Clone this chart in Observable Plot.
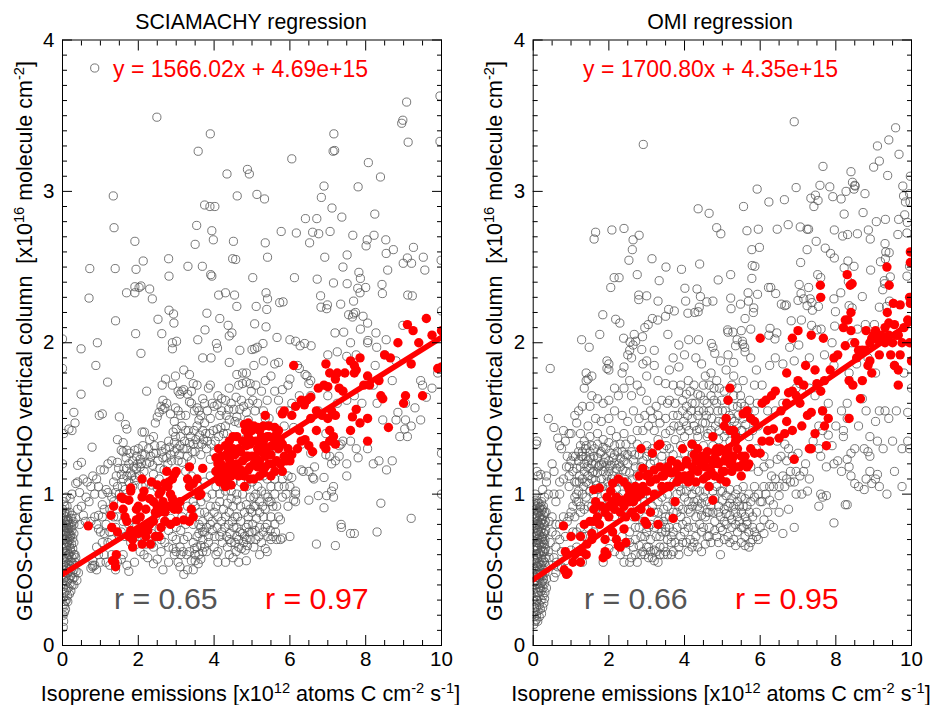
<!DOCTYPE html>
<html><head><meta charset="utf-8">
<script src="https://cdn.jsdelivr.net/npm/d3@7"></script>
<script src="https://cdn.jsdelivr.net/npm/@observablehq/plot@0.6"></script>
<style>html,body{margin:0;padding:0;background:#fff}#wrap{display:flex;width:932px;height:705px}svg{display:block;font-family:"Liberation Sans",Arial,sans-serif}</style>
</head><body><div id="wrap"></div>
<script>
const titles = ["SCIAMACHY regression", "OMI regression"];
const equations = ["y = 1566.02x + 4.69e+15", "y = 1700.80x + 4.35e+15"];
const rAll = ["r = 0.65", "r = 0.66"];
const rRed = ["r = 0.97", "r = 0.95"];
const slopes = [0.156602, 0.17008];
const intercepts = [0.469, 0.435];
const xMajor = [0,2,4,6,8,10];
const xMinor = [0.5,1,1.5,2.5,3,3.5,4.5,5,5.5,6.5,7,7.5,8.5,9,9.5];
const yMajor = [0,1,2,3,4];
const yMinor = [0.1,0.2,0.3,0.4,0.5,0.6,0.7,0.8,0.9,1.1,1.2,1.3,1.4,1.5,1.6,1.7,1.8,1.9,2.1,2.2,2.3,2.4,2.5,2.6,2.7,2.8,2.9,3.1,3.2,3.3,3.4,3.5,3.6,3.7,3.8,3.9];

const sciaOpenHigh = [[.85,3.815],[2.49,3.49],[3.9,3.38],[3.58,3.265],[7.16,3.38],[7.18,3.27],[7.14,3.265],[8.98,3.47],[8.95,3.45],[9.08,3.59],[9.12,3.325],[9.96,3.63],[9.96,3.33],[6.05,3.215],[8.07,3.19],[8.39,3.095],[4.88,3.145],[4.93,3.115],[4.34,3.115],[6.9,3.035],[7.8,3.03],[1.34,2.97],[4.61,2.97],[5.13,2.98],[5.33,2.95],[6.83,2.96],[3.75,2.91],[3.89,2.9],[4.02,2.9],[7.11,2.89],[8.24,2.85],[7.37,2.83],[6.41,2.82],[6.71,2.82],[3.54,2.775],[1.36,2.76],[3.94,2.74],[5.77,2.735],[6.17,2.725],[6.6,2.73],[6.76,2.72],[7.06,2.735],[7.66,2.71],[8.22,2.71],[8.04,2.68],[8.01,2.64],[8.53,2.68],[1.91,2.67],[3.5,2.65],[3.98,2.68],[4.51,2.67],[5.35,2.66],[6.52,2.66],[8.54,2.59],[8.73,2.615],[9.26,2.63],[7.51,2.58],[6.92,2.565],[5.41,2.565],[4.49,2.555],[4.57,2.55],[2.8,2.555],[2.13,2.54],[9.1,2.56],[9.52,2.565],[9.99,2.545],[8.99,2.525],[9.21,2.525],[.72,2.49],[1.39,2.49],[1.94,2.485],[3.31,2.505],[3.69,2.505],[7.4,2.5],[7.82,2.465],[8.58,2.48],[9.56,2.48],[3.91,2.45],[3.94,2.44],[2.81,2.44],[5.02,2.43],[6.12,2.43],[6.72,2.42],[7.86,2.425],[7.15,2.395],[7.51,2.39],[8.43,2.385],[1.91,2.37],[2.07,2.375],[2.02,2.365],[2.3,2.355],[7.79,2.36],[8,2.365],[1.69,2.33],[1.91,2.33],[4.3,2.33],[4.12,2.315],[4.54,2.315],[5.37,2.33],[7.85,2.33],[8.44,2.325],[9.11,2.315],[9.23,2.31],[.7,2.295],[2.37,2.29],[5.41,2.29],[6.81,2.31],[5.73,2.265],[5.82,2.27],[7.68,2.275],[4.6,2.24],[5.11,2.24],[6.99,2.25],[7.34,2.255],[6.82,2.235],[6.97,2.225],[2.81,2.215],[5.39,2.22],[10,2.21],[2.93,2.19],[3.81,2.195],[7.73,2.2],[7.68,2.19],[7.55,2.185],[7.65,2.17],[7.93,2.175],[1.4,2.145],[2.52,2.155],[4.15,2.16],[2.94,2.13],[4.37,2.115],[5.07,2.125],[8.05,2.13],[8.98,2.115],[5.37,2.105],[3.76,2.085],[7.86,2.09],[1.93,2.06],[2.62,2.06],[4.47,2.065],[4.4,2.045],[7.19,2.065],[7.42,2.07],[8.27,2.065],[0,2.025],[5.66,2.035],[3.57,2.02],[6,2.02],[6.15,2.01],[6.27,1.98],[6.39,1.995],[6.56,1.98],[8.06,2.015],[8.05,2],[8.54,2.02],[7.6,2],[.92,2],[2.9,2],[3.01,2.01],[4.06,1.995],[4.09,1.965],[5.29,1.995],[5.14,1.97],[5.07,1.96],[5,1.955],[8.29,1.97],[.49,1.96],[4.68,1.95]];

const sciaOpenMid = [[2.07,1.93],[2.9,1.96],[0,1.83],[.88,1.85],[1.19,1.74],[.49,1.66],[.97,1.52],[1.05,1.53],[1.5,1.51],[.3,1.54],[.33,1.47],[.17,1.43],[.25,1.42],[1.66,1.46],[1.7,1.43],[1.45,1.36],[.78,1.31],[1.6,1.34],[0,1.2],[.5,1.21],[.03,1.4],[2.1,1.41],[2.16,1.41],[2.4,1.38],[2.22,1.68],[2.65,1.62],[2.63,1.72],[2.9,1.72],[2.98,1.78],[2.72,1.76],[3.2,1.82],[3.35,1.79],[3.7,1.9],[3.92,1.9],[4.4,1.87],[4.75,1.8],[4.6,1.79],[4.85,1.8],[5.05,1.85],[5.3,1.88],[5.6,1.86],[5.7,1.87],[6.2,1.85],[6.25,1.83],[6.4,1.79],[6.45,1.78],[6.5,1.73],[6.55,1.75],[7,1.92],[7.25,1.94],[7.5,1.91],[7.75,1.92],[8.5,1.92],[8.8,1.88],[9.45,1.75],[9.5,1.72],[9.75,1.7],[9.9,1.8],[9.05,1.6],[9.3,1.57],[9.6,1.64],[9.45,1.49],[8.85,1.54],[8.8,1.49],[8.45,1.49],[9.05,1.49],[9.03,1.43],[8.9,1.38],[8.7,1.22],[8.35,1.22],[8.55,1.16],[8.2,1.2],[9.1,1.38],[9.2,1.45],[10,1.27],[10,1],[9.2,.84],[8.3,.75],[8.4,.94],[7.7,.74],[7.6,.74],[7.2,.66],[6.7,.67],[7.35,.8],[7.36,.78],[7.15,.98],[7.1,1.02],[7.15,1.05],[6.9,.91],[6.97,.99],[6.75,.99],[6.5,.96],[6.1,.96],[6.15,.95],[6.15,1],[6.15,1.02],[7.3,1.32],[7.4,1.35],[7.3,1.25],[7.6,1.35],[7.75,1.3],[7.35,1.33],[6.95,1.26],[6.55,1.27],[6.35,1.15],[6.5,1.15],[6.3,1.16],[6.05,1.11],[5.95,1.12],[6.6,1.11],[6.63,1.1],[6.9,1.11],[7.5,1.2],[7.8,1.24],[8.05,1.3],[6.65,1.18],[5.8,1.1],[7.05,1.25],[7.1,1.2],[7.2,1.22],[6.3,1.33],[6.1,1.44],[5.3,1.55],[5.15,1.6],[5.4,1.62],[5.6,1.68],[5.8,1.69],[5.45,1.5],[5.75,1.55],[5.1,1.72],[4.65,1.72],[4.75,1.73],[4.85,1.74],[4.95,1.73],[4.4,1.7],[3.85,1.7],[3.9,1.72],[4.1,1.65],[4.2,1.63],[4.3,1.62],[3.4,1.68],[3.45,1.73],[3.55,1.72],[3.3,1.66],[3.1,1.66],[3.15,1.68],[3.2,1.69],[3.05,1.68],[2.98,1.57],[2.7,1.57],[2.5,1.51],[2.55,1.54],[2.6,1.58],[2.65,1.56],[2.75,1.6],[2.85,1.53],[2.45,1.47],[3.35,1.61],[3.4,1.6],[3.55,1.57],[3.6,1.55],[3.7,1.63],[3.75,1.6],[3.65,1.52],[3.6,1.49],[3.55,1.45],[3.7,1.42],[3.75,1.47],[3.9,1.5],[4,1.58],[4.15,1.52],[4.3,1.45],[4.4,1.49],[4.6,1.51],[4.55,1.48],[4.65,1.47],[4.85,1.54],[4.9,1.49],[5,1.44],[5.2,1.43],[5.35,1.5],[5.05,1.38],[4.85,1.37],[4.35,1.4],[3.15,1.45],[3.25,1.42],[3.0,1.43],[2.4,1.27],[2.3,1.36],[2.1,1.26],[2.0,1.3],[1.9,1.29],[1.7,1.29],[1.6,1.28],[1.55,1.29],[1.45,1.21],[1.3,1.22],[1.2,1.2],[1.1,1.16],[1,1.16],[.95,1.05],[.9,1.1],[.75,1.05],[.8,1.12],[.4,1.19],[.55,1.1],[.65,1.08],[.35,1.07],[.4,1.08],[.45,1.01],[.25,1],[.2,.97],[.1,.98],[.62,.98],[.7,.95],[.85,1],[1.05,1],[1.15,1.03],[1.2,1.01],[1.3,.98],[1.35,.95],[1.45,1.05],[1.6,1.1],[1.7,1.12],[1.55,1.13],[1.8,1.14],[1.85,1.05],[1.95,1.17],[2.05,1.18],[2.15,1.15],[2.3,1.21],[2.4,1.13],[2.55,1.1],[2.65,1.24],[2.75,1.24],[2.85,1.26],[2.95,1.28],[3.05,1.22],[3.15,1.21],[3.3,1.25],[3.4,1.22],[3.5,1.28],[3.65,1.26],[3.8,1.3],[3.9,1.23],[4,1.27],[2.6,1.32],[2.95,1.34],[2.8,1.35],[3.1,1.32],[2.2,1.06],[2.5,1.04],[2.35,1.06],[1.75,1.08],[1.65,1.03],[1.4,1.01],[1.9,1.09],[2.1,1.05],[1.5,1],[3.35,1.34],[3.45,1.33],[1.75,1.2],[1.85,1.22],[1.7,1.17],[1.95,1.25],[2.05,1.23]];

const sciaOpenLow = [[0,.9],[.05,.88],[.1,.85],[.15,.83],[.25,.86],[.3,.8],[.35,.84],[.45,.8],[.55,.86],[.6,.82],[.75,.82],[.85,.85],[.95,.86],[1.05,.85],[.9,.8],[1,.75],[1.1,.74],[.95,.77],[1.15,.8],[.9,.65],[.8,.53],[.75,.51],[.8,.52],[.85,.53],[.9,.5],[1,.55],[1.15,.55],[1.25,.53],[1.45,.55],[1.7,.53],[1.75,.49],[1.4,.5],[1.6,.6],[1.9,.55],[2.15,.6],[2.4,.54],[2.5,.57],[2.65,.5],[2.8,.55],[2.95,.6],[3.05,.55],[3.1,.52],[3.2,.47],[3.3,.5],[3.45,.5],[3.5,.56],[3.65,.57],[3.7,.62],[3.6,.6],[3.45,.68],[3.55,.65],[3.65,.66],[4.05,.6],[4.1,.55],[4.3,.55],[4.5,.58],[4.65,.55],[4.85,.56],[5.2,.6],[5.4,.62],[5.35,.64],[5.5,.7],[5.65,.7],[5.75,.7],[5.8,.71],[6,.72],[5.1,.7],[4.95,.7],[4.85,.7],[4.8,.72],[4.4,.7],[4.45,.68],[4.35,.65],[4.2,.75],[4.1,.62],[4,.65],[3.85,.72],[3.75,.75],[3.45,.8],[3.6,.8],[3.65,.78],[3.7,.82],[3.7,.75],[3.6,.74],[3.55,.72],[3.3,.72],[3.2,.7],[3.1,.65],[3,.7],[2.9,.72],[2.7,.68],[2.6,.62],[2.5,.72],[2.35,.67],[2.2,.67],[2.1,.7],[2,.72],[1.8,.68],[2.55,.77],[2.8,.76],[4.3,.85],[4.4,.88],[4.55,.85],[4.7,.82],[4.9,.85],[5,.88],[5.1,.92],[5.2,.88],[5.3,.85],[5.5,.85],[5.35,.9],[5.55,.92],[5.7,.85],[5.75,.83],[5.6,.8],[5.4,.8],[5.2,.78],[5,.75],[4.85,.78],[4.6,.78],[4.75,.74],[4.6,.72],[4.9,.8],[4.1,.85],[4,.88],[3.9,.92],[3.85,.85],[4.15,.95],[4.25,.9],[4.45,.97],[4.6,.96],[4.7,.92],[4.85,.93],[5.1,1],[5.25,1.02],[5.35,1],[5.5,1.05],[5.6,1],[5.45,.95],[5.8,.98],[5.7,1.05],[5.85,1.05],[5.6,1.1],[5.4,1.1],[5.15,1.05],[5.05,.98],[4.95,.98],[4.75,1],[4.6,1],[4.45,1.02],[3.8,.98],[3.95,1],[4.05,1.05],[4.15,1],[4.25,1.05],[3.65,.95],[3.45,.95],[3.3,.92],[3.15,.85],[1.55,.75],[1.65,.72],[2.35,.74],[1.25,.9],[1.35,.85],[1.1,.9],[1.05,.93],[.4,.9],[.5,.92],[2.45,.85],[2.7,.82],[3.35,.62],[3.5,.6],[4.65,.65],[5.05,.65],[4.4,.6],[2.05,.62],[2.25,.58],[1.55,.57],[1.3,.6]];

const sciaOpenLowX = [[.02,.12],[.03,.16],[.02,.2],[.05,.22],[.08,.24],[.02,.27],[.07,.29],[.1,.3],[.03,.32],[.13,.33],[.18,.34],[.05,.35],[.1,.36],[.22,.36],[.15,.38],[.02,.39],[.07,.4],[.25,.4],[.2,.41],[.3,.4],[.12,.42],[.03,.43],[.17,.44],[.27,.44],[.08,.45],[.22,.46],[.31,.45],[.38,.43],[.02,.47],[.13,.48],[.26,.48],[.36,.49],[.06,.5],[.18,.5],[.3,.5],[.42,.48],[.1,.52],[.23,.52],[.02,.53],[.15,.54],[.28,.54],[.07,.55],[.2,.56],[.33,.55],[.12,.58],[.25,.58],[.02,.58],[.18,.6],[.3,.6],[.08,.61],[.13,.63],[.22,.62],[.02,.64],[.27,.64],[.1,.65],[.18,.66],[.05,.67],[.24,.67],[.13,.68],[.3,.68],[.02,.7],[.08,.7],[.19,.7],[.27,.71],[.12,.72],[.04,.73],[.22,.73],[.15,.74],[.07,.75],[.02,.76],[.17,.77],[.25,.76],[.11,.78],[.03,.79],[.2,.8],[.07,.81],[.13,.82],[.01,.84],[.3,.74],[.33,.6],[.35,.58],[.14,.29],[.05,.26]];

const sciaOpenExtra = [[.04,.46],[.09,.48],[.14,.51],[.19,.53],[.24,.55],[.04,.57],[.1,.59],[.16,.6],[.21,.64],[.06,.62],[.11,.66],[.15,.69],[.2,.72],[.05,.7],[.09,.74],[.14,.76],[.18,.74],[.23,.78],[.06,.78],[.1,.8],[.16,.8],[.04,.82],[.09,.83],[.03,.86],[.07,.88],[.12,.88],[.18,.88],[.23,.84],[.28,.82],[.06,.92],[.12,.92],[.04,.95],
[1.35,1.08],[1.42,1.12],[1.48,1.17],[1.58,1.05],[1.62,1.17],[1.68,1.24],[1.78,1.27],[1.83,1.12],[1.88,1.18],[1.93,1.11],[1.98,1.2],[2.03,1.12],[2.08,1.2],[2.12,1.32],[2.18,1.26],[2.22,1.2],[2.27,1.3],[2.33,1.25],[2.38,1.19],[2.43,1.32],[2.47,1.27],[2.52,1.22],[2.57,1.17],[2.62,1.28],[2.68,1.16],[2.72,1.3],[2.78,1.2],[2.83,1.31],[2.88,1.22],[2.92,1.41],[2.98,1.38],[3.02,1.3],[3.08,1.26],[3.12,1.38],[3.18,1.3],[3.22,1.35],[3.28,1.3],[3.32,1.42],[3.38,1.38],[3.42,1.28],[3.47,1.42],[3.52,1.36],[3.58,1.33],[3.62,1.39],[3.68,1.33],[3.72,1.36],[3.78,1.4],[3.82,1.35],[3.88,1.4],[3.92,1.33],[3.98,1.42],[4.03,1.35],[4.08,1.43],[4.12,1.38],[4.18,1.44],[4.25,1.4],[4.32,1.52],[4.38,1.56],[4.45,1.6],[4.52,1.56],[4.58,1.64],[4.68,1.56],[4.72,1.62],[4.78,1.58],[4.92,1.6],[4.98,1.68],[5.02,1.62],[5.08,1.55],[4.2,1.55],[4.08,1.59],[3.95,1.6],[3.82,1.55],[3.48,1.55],[3.25,1.52],[3.12,1.52],[2.95,1.48],[3.05,1.55],
[2.75,.9],[2.8,.65],[2.92,.64],[3.0,.62],[3.12,.6],[3.18,.62],[3.28,.6],[3.4,.56],[3.48,.64],[3.58,.54],[3.7,.7],[3.75,.65],[3.8,.62],[3.85,.68],[3.9,.8],[3.95,.76],[4.02,.72],[4.08,.78],[4.15,.72],[4.22,.68],[4.28,.78],[4.33,.72],[4.38,.8],[4.42,.74],[4.48,.82],[4.52,.78],[4.55,.68],[4.58,.62],[4.65,.7],[4.68,.75],[4.72,.64],[4.78,.68],[4.82,.63],[4.88,.66],[4.92,.75],[5.02,.8],[5.08,.76],[5.12,.84],[5.18,.72],[5.25,.68],[5.3,.75],[5.35,.78],[5.42,.72],[5.48,.76],[5.55,.72],[5.62,.75],[5.28,.92],[5.42,.98],[5.2,.95],[5.05,.92],[4.95,.9],[4.8,.88],[4.62,.85],[4.5,.92],[4.35,.94],[4.2,.82],[4.05,.92],[3.95,.82],[3.8,.78],[3.75,.88],[3.62,.88],[3.5,.92],[3.38,.86],[3.25,.8],[3.12,.76],[3,.78],[2.85,.84],[2.6,.7],[2.4,.65],[2.3,.72],[2.15,.72],[1.9,.78],[1.75,.8],[1.6,.82],[1.45,.85],[1.4,.78],[1.5,.72],[1.25,.75],[1.2,.68],[1.3,.7],[1.05,.68],[.95,.6],[1.1,.6],[.8,.56],[5.9,1.0],[6,1.05],[5.95,.92],[5.65,.92],[5.5,.95],[4.3,1.02],[4.5,1.08],[4.7,1.08],[4.85,1.05],[5,1.08],[5.3,1.12],[5.5,1.15],[3.5,1.0],[3.6,1.05],[3.75,1.08],[3.9,1.12],[4.05,1.15],[4.2,1.12],[3.25,1.15],[3.4,1.12],
[5.45,1.3],[5.65,1.3],[5.85,1.45],[5.95,1.55],[6.05,1.6],[6.25,1.65],[6.55,1.65],[5.95,1.72],[6.0,1.76],[5.5,1.78],[5.35,1.75],[5.25,1.68],[5.7,1.62],[6.75,1.55],[7,1.65],[7.25,1.6],[7.5,1.62],[7.7,1.65],[8.2,1.72],[8.25,1.85],[8.7,1.75],[8.3,1.6],[7.9,1.6],[6.95,1.4],[7.5,1.12]];

const sciaFilled = [[.68,.79],[1.28,.86],[1.3,.78],[1.35,.92],[1.45,.75],[1.32,.56],[1.38,.55],[1.42,.6],[1.4,.52],[1.55,.98],[1.6,.9],[1.75,.96],[1.8,1.02],[1.65,.85],[1.75,.72],[1.85,.7],[1.95,.83],[2,.92],[2.1,.98],[2.15,1.02],[2.2,.9],[2.3,.97],[2.4,.95],[2.05,.75],[2.25,.76],[2.3,.8],[2.32,.67],[2.1,.67],[1.85,.65],[2,.74],[2.55,.72],[2.6,.78],[2.7,.82],[2.85,.8],[2.95,.9],[3,.82],[2.78,1.05],[2.9,1.1],[3,1.15],[2.95,1.13],[2.65,.95],[2.55,.88],[3.2,.83],[3.4,.9],[3.45,.85],[3.35,.82],[3.3,1.1],[3.35,1.18],[3.55,1.1],[3.65,1.0],[3.7,1.17],[3.6,.99],[4.05,1.15],[4.1,1.2],[4.2,1.25],[4.3,1.32],[4.15,1.08],[4.3,1.05],[4.45,1.12],[4.6,1.2],[4.5,1.3],[4.7,1.28],[4.8,1.05],[4.9,1.16],[4.8,1.46],[4.83,1.42],[4.9,1.38],[4.95,1.33],[5,1.25],[5.05,1.1],[5.15,1.18],[5.25,1.28],[5.35,1.25],[5.4,1.38],[5.3,1.14],[5.45,1.2],[5.55,1.32],[5.65,1.4],[5.75,1.2],[5.85,1.25],[5.95,1.3],[6.05,1.26],[5.8,1.33],[5.8,1.53],[5.85,1.55],[6.05,1.52],[5.35,1.52],[6.1,1.85],[6.15,1.58],[6.3,1.62],[6.38,1.59],[6.45,1.62],[6.55,1.64],[6.3,1.35],[6.5,1.32],[6.6,1.28],[6.7,1.42],[6.75,1.7],[6.9,1.72],[7,1.71],[6.95,1.86],[7.05,1.8],[7.2,1.76],[7.25,1.8],[7.3,1.7],[7.4,1.68],[6.9,1.32],[6.95,1.3],[7.05,1.35],[7.15,1.38],[7.2,1.33],[7.2,1.52],[7.05,1.42],[7.6,1.42],[7.65,1.51],[7.75,1.56],[7.45,1.8],[7.7,1.8],[7.6,1.88],[7.75,1.82],[7.7,1.85],[7.85,1.9],[8.05,1.78],[7.95,1.72],[8.05,1.5],[8.1,1.72],[7.85,1.47],[8.05,1.35],[8.4,1.65],[8.45,1.63],[8.6,1.44],[8.35,1.75],[8.5,1.92],[8.65,1.9],[8.85,2.0],[9.2,1.86],[9.05,1.65],[9.0,1.6],[9.5,1.65],[9.1,2.12],[9.25,2.08],[9.6,2.16],[9.9,1.83],[10,1.84],[9.4,2.0],[9.75,2.05],[10,2.08],[3.35,1.05],[3.45,1.07],[2.45,.72],[2.9,.97],[2.35,1.08],[2.5,1.06],[2.55,1.0],[2.6,1.02],[2.1,1.1],[1.8,1.04],[1.6,.97],[2.7,1.07],[2.8,1.08],[2.75,1.15],[5.1,1.35],[5.2,1.42],[4.55,1.15],[4.65,1.12],[4.75,1.22],[4.85,1.25],[4.95,1.1],[5.15,1.3],[5.3,1.35],[5.5,1.12],[5.6,1.15],[5.7,1.3],[4.4,1.23],[4.3,1.18],[4.2,1.15],[4.4,1.35],[4.6,1.38],[4.75,1.35],[4.95,1.18],[5.05,1.45],[5.25,1.38],[5.45,1.45],[5.6,1.44],[5.7,1.42],[6.2,1.3],[6.25,1.42],[6.4,1.36],[6.55,1.5],[6.7,1.55],[6.85,1.52],[7,1.5],[7.1,1.55],
[4.05,1.24],[4.12,1.3],[4.18,1.2],[4.25,1.12],[4.35,1.1],[4.35,1.27],[4.45,1.2],[4.5,1.38],[4.55,1.26],[4.65,1.3],[4.7,1.16],[4.8,1.12],[4.85,1.32],[4.9,1.25],[5,1.35],[5.05,1.2],[5.1,1.24],[5.2,1.12],[5.2,1.22],[5.25,1.32],[5.35,1.18],[5.4,1.3],[5.45,1.38],[5.5,1.26],[5.55,1.2],[5.6,1.36],[5.65,1.22],[5.75,1.35],[5.8,1.15],[5.9,1.22],[6,1.22],[4.1,1.1],[4.45,1.06],[5.0,1.42],[4.9,1.47],[5.15,1.44],[5.3,1.45],[1.7,.82],[1.8,.76],[1.9,.74],[1.95,.9],[2.05,.85],[2.15,.78],[2.2,.72],[2.4,.82],[2.45,.88],[2.5,.92],[2.6,.9],[2.7,.88],[2.8,.92],[2.85,1.0],[3.05,.9],[3.1,.95]];

const omiOpenHigh = [[6.9,3.46],[2.91,3.31],[9.58,3.42],[9.4,3.34],[9.1,3.3],[9.67,3.245],[9.15,3.2],[9,3.16],[7.66,3.165],[8.4,3.13],[9.37,3.105],[9.97,3.1],[8.44,3.06],[8.51,3.035],[8.48,3.015],[8.5,3.04],[7.58,3.04],[6.95,3.025],[5.92,3.015],[7.84,3.03],[8.27,3],[8.77,2.985],[9.77,3.035],[9.79,2.97],[9.95,2.985],[7.34,2.955],[7.46,2.975],[7.53,2.94],[7.92,2.965],[8.14,2.95],[6.64,2.945],[6.23,2.93],[7.42,2.9],[5.56,2.9],[9.84,2.93],[9.96,2.93],[4.36,2.885],[4.65,2.855],[8.22,2.85],[8.72,2.86],[9.82,2.845],[9.66,2.815],[9.31,2.815],[9.07,2.8],[9.89,2.795],[6.74,2.78],[4.85,2.76],[7.06,2.765],[7.24,2.75],[7.28,2.75],[5.65,2.74],[5.95,2.75],[6.45,2.75],[7.96,2.745],[8.86,2.745],[2.4,2.755],[2.08,2.745],[1.65,2.73],[1.61,2.685],[2.8,2.71],[2.64,2.68],[4.96,2.72],[8.18,2.705],[8.31,2.715],[8.57,2.72],[9.64,2.715],[9.88,2.725],[8.91,2.685],[7.48,2.67],[9.3,2.655],[7.72,2.625],[7.24,2.615],[5.98,2.63],[5.78,2.615],[2.62,2.615],[7.86,2.59],[7.96,2.56],[9.32,2.6],[9.41,2.595],[9.31,2.555],[3.14,2.555],[2.53,2.545],[8.32,2.54],[9.18,2.535],[7.07,2.53],[5.79,2.51],[5.86,2.505],[4.4,2.52],[3.51,2.5],[3.92,2.485],[8.22,2.495],[8.48,2.505],[9.95,2.505],[8.92,2.48],[2.75,2.45],[5.22,2.45],[7.52,2.45],[7.6,2.43],[9.88,2.44],[9.44,2.435],[2.14,2.43],[2.27,2.43],[5.78,2.425],[4.89,2.415],[3.33,2.41],[9.28,2.41],[8.33,2.405],[2.05,2.365],[7.03,2.385],[7.28,2.365],[6.22,2.365],[6.28,2.365],[4.01,2.36],[4.33,2.355],[9.29,2.39],[9.24,2.35],[5.68,2.33],[5.93,2.32],[6.41,2.325],[2.79,2.315],[3,2.31],[4.42,2.305],[7.08,2.325],[8.13,2.33],[8.7,2.305],[7.15,2.29],[7.32,2.29],[7,2.28],[7.95,2.29],[2.79,2.285],[3.3,2.275],[4.03,2.275],[5.22,2.295],[5.69,2.275],[4.59,2.27],[4.75,2.275],[9.42,2.275],[6.56,2.255],[6.69,2.25],[6.65,2.245],[7.24,2.245],[8.35,2.245],[8.43,2.23],[4.39,2.235],[5.48,2.255],[5.83,2.23],[7.37,2.265],[7.54,2.24],[9.15,2.235],[5.23,2.225],[7.38,2.215],[9.34,2.24],[3.58,2.22],[3.73,2.21],[4.36,2.205],[4.27,2.2],[4.09,2.195],[5.82,2.2],[7.99,2.205],[1.84,2.185],[3.5,2.175],[5.6,2.16],[2.18,2.155],[3.15,2.16],[3.29,2.15],[6.82,2.145],[7.09,2.15],[2.29,2.13],[3.04,2.12],[2.95,2.1],[7.36,2.115],[7.97,2.11],[8.78,2.12],[9.02,2.12],[6.26,2.095],[5.75,2.09],[5.14,2.085],[5.15,2.07],[5.28,2.07],[5.5,2.08],[7.5,2.085],[7.61,2.09],[8.57,2.09],[1.76,2.055],[3.56,2.055],[2.67,2.055],[6.23,2.05],[6.44,2.065],[1.28,2.02],[2.39,2.03],[2.89,2.04],[4.11,2.02],[4.37,2.02],[5.39,2.02],[5.53,2.01],[6.39,2.025],[7.9,2],[1.48,1.97],[2.56,2.005],[2.71,2.01],[2.64,1.985],[3.85,1.985],[4.71,1.995],[4.75,1.97],[5.54,1.99],[5.59,1.97],[5.35,1.98],[6.78,1.97],[7.02,1.985],[8.42,2],[2.55,1.95],[2.87,1.955],[3.2,1.95]];

const omiOpenMid = [[.45,1.83],[1.4,1.8],[1.45,1.76],[1.55,1.78],[1.4,1.75],[1.35,1.7],[1.95,1.88],[2,1.86],[1.95,1.83],[2.0,1.82],[2.5,1.92],[2.6,1.9],[3.0,1.88],[2.9,1.86],[2.4,1.84],[2.35,1.8],[3.0,1.78],[3.3,1.75],[3.5,1.73],[3.7,1.9],[3.85,1.84],[3.6,1.82],[3.2,1.85],[4.0,1.92],[4.3,1.9],[4.45,1.86],[4.8,1.93],[4.95,1.88],[5.15,1.92],[5.3,1.87],[5.6,1.94],[5.75,1.9],[5.9,1.82],[6.05,1.72],[5.85,1.72],[6.25,1.85],[6.4,1.9],[6.6,1.86],[6.9,1.88],[7.3,1.9],[7.7,1.92],[7.95,1.85],[8.35,1.8],[8.55,1.86],[8.85,1.9],[9.05,1.8],[9.55,1.85],[9.8,1.8],[10,1.7],[9.9,1.54],[9.6,1.55],[9.3,1.55],[9.15,1.55],[9.4,1.5],[9.05,1.48],[8.8,1.55],[8.6,1.45],[8.3,1.5],[8.0,1.45],[8.2,1.42],[8.15,1.55],[8.3,1.6],[8.7,1.63],[9.5,1.35],[9.9,1.35],[9.75,1.3],[9.95,1.3],[9.25,1.3],[9.1,1.35],[8.9,1.38],[8.75,1.3],[8.85,1.28],[8.5,1.3],[8.4,1.27],[8.2,1.38],[8.05,1.22],[7.95,1.2],[7.75,1.18],[8.15,1.15],[8.3,1.23],[8.35,1.18],[8.4,1.12],[8.5,1.07],[8.6,1.05],[8.75,1.03],[8.8,1.1],[8.9,1.15],[9.1,1.13],[9.15,1.05],[9.05,1.1],[9.35,1.0],[9.55,1.15],[9.75,1.05],[8.9,1.25],[8.95,1.07],[8.25,.93],[8.3,.93],[7.95,.81],[6.9,.78],[6.6,.74],[6.35,.78],[6.5,.88],[6.75,.9],[7.55,.92],[7.75,.99],[7.6,1],[7.65,.98],[7.1,1.0],[7.25,1.02],[6.95,1],[6.65,1.05],[6.5,.99],[6.35,.93],[6.25,.96],[6.2,.88],[6.1,.83],[5.9,.72],[5.75,.68],[5.7,.65],[4.95,.6],[5.95,.7],[7.15,1.15],[7.2,1.2],[7.3,1.1],[7.05,1.12],[6.9,1.08],[6.8,1.15],[6.7,1.22],[6.55,1.25],[6.45,1.23],[6.85,1.25],[7.0,1.27],[7.55,1.45],[7.65,1.42],[7.8,1.39],[7.9,1.32],[7.4,1.35],[7.55,1.3],[7.6,1.25],[6.75,1.3],[6.65,1.33],[6.45,1.35],[7.65,1.55],[7.8,1.6],[7.45,1.65],[7.3,1.7],[7.05,1.73],[6.95,1.7],[6.6,1.6],[6.4,1.55],[6.2,1.55],[5.95,1.45],[5.75,1.5],[5.5,1.6],[5.4,1.7],[5.55,1.75],[5.3,1.78],[5.1,1.82],[4.7,1.8],[4.85,1.75],[4.55,1.78],[4.25,1.72],[4.1,1.75],[4.05,1.66],[3.95,1.62],[3.85,1.68],[3.7,1.72],[3.95,1.55],[4.05,1.58],[4.2,1.6],[4.35,1.52],[4.5,1.55],[4.6,1.6],[4.7,1.65],[4.85,1.6],[5,1.55],[5.15,1.62],[5.3,1.65],[5.4,1.58],[5.55,1.5],[5.25,1.5],[5.1,1.45],[4.9,1.48],[4.7,1.42],[4.55,1.47],[4.4,1.43],[4.2,1.5],[4.05,1.45],[3.85,1.45],[3.7,1.52],[3.55,1.6],[3.4,1.62],[3.25,1.58],[3.1,1.55],[3.0,1.62],[2.85,1.68],[2.75,1.72],[2.55,1.75],[2.6,1.65],[2.4,1.7],[2.25,1.65],[2.15,1.7],[2,1.62],[1.85,1.6],[1.7,1.63],[1.55,1.65],[1.5,1.58],[1.3,1.58],[1.2,1.55],[1.1,1.52],[1.15,1.47],[1.0,1.4],[.95,1.4],[.8,1.42],[.7,1.32],[.65,1.37],[.75,1.3],[.9,1.25],[.85,1.35],[.55,1.44],[.4,1.5],[.08,1.33],[.1,1.35],[.1,1.15],[.12,1.12],[.2,1.13],[.35,1.12],[.5,1.2],[.55,1.15],[.35,1.08],[.25,1.03],[.05,1.0],[.3,.98],[.4,1.0],[.55,1.0],[.6,.95],[.7,1.0],[.7,1.08],[.8,1.1],[.95,1.12],[1.05,1.15],[.95,1.05],[1.1,1.08],[1.15,1],[1.2,.95],[1.05,.92],[1,.88],[1.1,.85],[1.25,.88],[1.3,1.25],[1.45,1.45],[1.65,1.5],[1.8,1.48],[2,1.5],[2.15,1.55],[2.35,1.52],[2.5,1.48],[2.65,1.55],[2.8,1.5],[2.9,1.42],[3.05,1.45],[3.2,1.42],[3.35,1.47],[3.5,1.4],[1.25,1.4],[1.35,1.35],[1.5,1.38],[1.7,1.4],[1.85,1.36],[2.05,1.42],[2.2,1.38],[2.4,1.4],[2.6,1.36],[2.75,1.33],[3,1.32],[3.15,1.3],[3.3,1.36],[3.45,1.3],[3.6,1.3],[3.75,1.36],[3.9,1.32],[4,1.38],[4.2,1.33],[4.35,1.38],[5.7,1.38],[5.9,1.3],[6.1,1.25],[6.25,1.2],[6.1,1.18],[6.3,1.12],[5.95,1.15],[5.75,1.18]];

const omiOpenDense = [[1.2,1.22],[1.25,1.18],[1.3,1.28],[1.35,1.15],[1.3,1.1],[1.35,1.2],[1.4,1.25],[1.45,1.12],[1.4,1.08],[1.45,1.22],[1.5,1.17],[1.5,1.28],[1.55,1.1],[1.55,1.2],[1.6,1.25],[1.6,1.15],[1.65,1.09],[1.65,1.2],[1.7,1.24],[1.7,1.14],[1.75,1.19],[1.8,1.1],[1.8,1.28],[1.8,1.2],[1.85,1.15],[1.9,1.24],[1.9,1.18],[1.95,1.12],[2,1.22],[2,1.15],[2.05,1.27],[2.05,1.19],[2.1,1.12],[2.15,1.2],[2.15,1.26],[2.2,1.17],[2.25,1.11],[2.3,1.24],[2.3,1.18],[2.35,1.28],[2.4,1.22],[2.45,1.15],[2.5,1.26],[2.5,1.2],[2.6,1.28],[2.65,1.22],[2.7,1.18],[2.8,1.26],[2.9,1.22],[3,1.25],[3.1,1.2],[3.2,1.22],[1.15,1.08],[1.2,1.02],[1.3,1.0],[1.4,.98],[1.5,1.02],[1.6,1],[1.7,1.03],[1.8,.95],[1.9,1],[2,1.05],[2.1,1.0],[2.2,1.03],[1.15,.95],[1.25,.92],[3.4,1.25],[3.5,1.18],[3.6,1.22],[3.7,1.26],[3.85,1.22],[4,1.27],[4.2,1.26],[4.3,1.3],[4.5,1.32],[4.6,1.38],[4.75,1.32],[4.9,1.36],[5.05,1.38],[5.2,1.35],[5.35,1.4],[5.5,1.42],[3.7,.95],[3.8,1.0],[3.9,1.02],[4,.98],[4.1,.95],[4.2,1.0],[4.3,1.03],[4.4,1.02],[4.5,.98],[4.6,.95],[4.7,.92],[4.8,.97],[4.9,.92],[5,.96],[5.1,.99],[5.2,.94],[5.3,.92],[5.4,.95],[5.5,.98],[5.6,.97],[5.7,1],[5.55,1.05],[5.4,1.03],[5.2,1.03],[5,1.02],[3.8,.88],[3.9,.85],[4.05,.82],[4.15,.88],[4.3,.85],[4.4,.9],[4.55,.85],[4.65,.88],[4.8,.82],[4.95,.85],[5.1,.87],[5.25,.83],[5.4,.85],[5.5,.88],[5.65,.82],[5.8,.85],[5.9,.88],[6.0,.95],[5.85,1.05],[6.1,1.05],[6.4,1.1],[6.6,1.12],[4.0,.75],[4.15,.7],[4.3,.72],[4.45,.75],[4.6,.72],[4.7,.68],[4.85,.72],[5,.76],[5.15,.72],[5.3,.7],[5.4,.75],[5.55,.78],[5.7,.75],[5.5,.68],[5.6,.72],[5.85,.75],[4.2,.65],[4.1,.62],[4.45,.62],[4.55,.67],[3.5,.85],[3.3,.82],[3.2,.88],[3.3,.95],[3.45,.9],[3.6,.78],[3.4,.75],[3.25,.72],[3.1,.7],[3,.75],[2.85,.72],[2.7,.7],[2.55,.68],[2.45,.62],[2.3,.6],[2.15,.62],[2,.64],[1.9,.6],[1.85,.55],[2.4,.55],[2.6,.58],[2.55,.55],[2.7,.6],[2.75,.55],[2.95,.6],[3.05,.58],[3.2,.56],[3.3,.55],[3.45,.6],[3.5,.62],[3.7,.62],[3.85,.6],[3.65,.68],[3.85,.65],[3.05,.65],[3.2,.63],[3.35,.65],[3.55,.7],[3.7,.75],[3.9,.72],[2.1,.72],[2.35,.72],[2.7,.78],[2.9,.82],[3.1,.8],[1.3,.55],[1.15,.65],[1.4,.72],[.55,.45],[.6,.48],[.65,.52],[.55,.58],[.4,.62],[.75,.62],[.85,.56],[1,.63]];

const omiOpenExtra = [[1.22,1.12],[1.27,1.25],[1.33,1.05],[1.38,1.3],[1.42,1.18],[1.47,1.07],[1.52,1.24],[1.57,1.14],[1.62,1.3],[1.67,1.06],[1.72,1.18],[1.77,1.27],[1.83,1.05],[1.87,1.21],[1.92,1.3],[1.97,1.08],[2.02,1.18],[2.07,1.1],[2.12,1.24],[2.17,1.08],[2.22,1.28],[2.27,1.2],[2.33,1.08],[2.37,1.16],[2.43,1.26],[2.48,1.08],[2.55,1.14],[2.62,1.1],[2.68,1.26],[2.75,1.12],[2.85,1.18],[2.95,1.16],[3.05,1.28],[3.15,1.25],[1.25,1.32],[1.4,1.32],[1.55,1.32],[1.7,1.33],[1.85,1.31],[2,1.34],[2.15,1.32],[2.3,1.33],[2.45,1.33],[1.2,1.28],[1.15,1.17],[1.12,1.25],[1.05,1.25],[1.0,1.22],[.95,1.18],[.88,1.18],
[1.1,.98],[1.22,1.08],[1.35,.9],[1.45,.92],[1.55,.92],[1.65,.9],[1.75,.92],[1.85,.88],[1.95,.93],[2.05,.92],[2.15,.85],[2.25,.98],[2.35,1.0],[2.45,.95],[2.55,.9],[2.65,.85],[2.8,.88],[2.95,.95],[3.1,.98],[1.45,.78],[1.6,.75],[1.3,.72],[1.25,.78],[1.15,.75],[1.05,.75],
[3.52,1.32],[3.62,1.42],[3.72,1.45],[3.82,1.52],[3.9,1.42],[3.98,1.48],[4.08,1.52],[4.12,1.42],[4.18,1.55],[4.25,1.45],[4.28,1.6],[4.32,1.42],[4.38,1.55],[4.42,1.65],[4.48,1.47],[4.52,1.62],[4.58,1.52],[4.62,1.4],[4.65,1.55],[4.72,1.5],[4.78,1.62],[4.82,1.45],[4.88,1.55],[4.92,1.42],[4.98,1.62],[5.02,1.48],[5.05,1.68],[5.08,1.55],[5.12,1.42],[5.18,1.52],[5.22,1.42],[5.28,1.58],[5.32,1.48],[5.38,1.45],[5.42,1.52],[5.48,1.65],[5.52,1.42],[5.58,1.58],[5.62,1.46],[5.68,1.55],[5.72,1.62],[5.8,1.42],[5.85,1.55],[5.92,1.6],[4.35,1.66],[4.15,1.68],[3.9,1.72],[4.5,1.72],[4.65,1.72],[4.92,1.7],[4.78,1.7],[5.25,1.72],[3.6,1.62],[3.75,1.6],[3.5,1.5],[3.3,1.52],[3.15,1.5],[2.95,1.52],[2.75,1.42],
[3.72,1.08],[3.85,1.05],[3.95,1.08],[4.05,1.02],[4.15,1.05],[4.25,.95],[4.35,.96],[4.45,.94],[4.55,1.02],[4.65,1.05],[4.75,1.02],[4.85,1.05],[4.95,1.02],[5.05,.9],[5.15,.92],[5.25,.97],[5.35,1.0],[5.45,.92],[5.55,.92],[5.65,.92],[5.75,.95],[5.85,.98],[5.95,1.0],[6.05,.95],[6.15,1.0],[6.25,1.05],[6.35,1.05],[6.5,1.05],[6.7,1.1],[6.8,1.08],[6.95,1.15],[3.85,.92],[3.95,.9],[4.1,.9],[4.2,.92],[4.35,.92],[4.45,.86],[4.6,.88],[4.75,.88],[4.9,.88],[5.05,.82],[5.2,.86],[5.35,.88],[5.45,.82],[5.6,.85],[5.72,.88],[3.95,.8],[4.1,.78],[4.25,.78],[4.4,.8],[4.5,.78],[4.65,.78],[4.8,.76],[4.95,.78],[5.1,.8],[5.25,.78],[5.35,.8],[5.5,.78],[5.65,.8],[5.8,.78],[3.95,.68],[4.05,.68],[4.25,.68],[4.35,.65],[4.65,.72],[4.9,.68],[5.05,.7],[5.2,.68],[5.35,.66],[5.6,.66],[5.8,.7],[6,.78],[6.1,.74],[6.25,.8],
[2.55,.75],[2.65,.65],[2.8,.66],[2.9,.62],[3,.65],[3.1,.62],[3.25,.62],[3.35,.6],[3.45,.65],[3.55,.6],[3.65,.6],[3.75,.68],[2.85,.6],[3.15,.58],[3.35,.72],[3.5,.75],[3.65,.72],[3.8,.78],[3.5,.78],[3.35,.8],[3.2,.78],[3.05,.78],[2.95,.72],[2.8,.78],[3.3,.88],[3.45,.82],[3.6,.85],[3.7,.88],[3.55,.92],[3.4,.98],[3.55,1.0],[3.25,1.0],[3.15,.92],[3,.9],
[.04,.25],[.09,.3],[.14,.35],[.19,.38],[.24,.42],[.04,.42],[.09,.45],[.14,.45],[.19,.47],[.25,.46],[.04,.5],[.09,.52],[.14,.54],[.19,.53],[.24,.55],[.3,.55],[.04,.56],[.09,.6],[.14,.61],[.2,.62],[.25,.62],[.3,.62],[.04,.65],[.09,.68],[.14,.68],[.2,.68],[.25,.7],[.3,.67],[.04,.72],[.09,.74],[.14,.75],[.2,.75],[.25,.72],[.3,.74],[.04,.79],[.1,.8],[.15,.8],[.2,.81],[.25,.83],[.3,.8],[.04,.85],[.1,.86],[.15,.88],[.2,.86],[.25,.9],[.3,.88],[.1,.92],[.15,.94],[.2,.92],[.05,.94],
[.42,.82],[.5,.85],[.6,.8],[.7,.8],[.8,.85],[.9,.82],[.95,.85],[.5,.75],[.6,.73],[.45,.68],[.42,.58],[.6,.65],[.7,.7],[.85,.72],[.62,.55],[.75,.52]];

const omiOpenLowX = [[.02,.14],[.05,.16],[.08,.17],[.12,.16],[.03,.19],[.09,.2],[.16,.19],[.22,.21],[.05,.22],[.13,.23],[.19,.24],[.02,.25],[.09,.26],[.25,.25],[.16,.27],[.28,.28],[.04,.29],[.11,.3],[.21,.3],[.3,.31],[.06,.32],[.16,.33],[.26,.33],[.02,.35],[.11,.35],[.31,.35],[.21,.36],[.07,.38],[.16,.38],[.26,.38],[.35,.38],[.03,.4],[.12,.41],[.21,.41],[.3,.41],[.07,.43],[.17,.44],[.27,.44],[.35,.44],[.02,.46],[.12,.47],[.22,.47],[.31,.48],[.07,.49],[.17,.5],[.27,.5],[.02,.51],[.12,.52],[.22,.53],[.32,.53],[.06,.54],[.17,.55],[.27,.56],[.02,.57],[.12,.58],[.22,.59],[.32,.58],[.07,.6],[.17,.61],[.27,.62],[.02,.63],[.12,.64],[.22,.65],[.32,.64],[.07,.66],[.17,.67],[.27,.68],[.02,.69],[.12,.7],[.22,.71],[.31,.7],[.07,.72],[.17,.73],[.27,.74],[.02,.75],[.12,.76],[.22,.77],[.33,.76],[.07,.78],[.17,.79],[.27,.8],[.02,.81],[.12,.82],[.22,.83],[.32,.82],[.07,.84],[.17,.85],[.27,.86],[.02,.87],[.12,.88],[.22,.89],[.34,.88],[.07,.9],[.17,.91],[.27,.92],[.02,.93],[.12,.94],[.22,.95],[.07,.96]];

const omiFilled = [[.8,.79],[.85,.62],[.82,.5],[.88,.47],[.92,.48],[.9,.6],[1.0,.72],[1.05,.55],[1.1,.6],[1.25,.72],[1.3,.62],[1.25,.55],[1.4,.6],[1.42,.67],[1.55,.74],[1.6,.82],[1.55,.7],[1.6,.9],[1.65,.95],[1.75,.8],[1.8,.92],[1.75,1.04],[1.9,.88],[2.0,.85],[1.9,.62],[1.95,.6],[1.85,.58],[1.9,.7],[2.15,.9],[2.25,.95],[2.2,.98],[2.1,.75],[2.2,.7],[2.25,.66],[2.3,.65],[2.45,.68],[2.4,.77],[2.45,.85],[2.55,1.02],[2.6,.88],[2.65,.95],[2.7,1.05],[2.75,.98],[2.85,.9],[2.95,.82],[3.0,.8],[3.1,.88],[3.3,.8],[2.85,1.3],[3.15,1.27],[3.35,1.33],[3.3,1.32],[2.8,1.12],[2.9,1.17],[3.0,1.12],[2.1,1.07],[2.05,1.02],[3.2,1.0],[3.4,1.05],[3.55,1.05],[3.7,.84],[3.75,.95],[3.8,1.08],[3.05,1.13],[3.2,1.16],[3.35,1.18],[3.5,1.15],[3.65,1.14],[3.75,1.15],[3.9,1.18],[3.95,1.1],[4.05,1.2],[3.95,1.3],[4.05,1.22],[4.2,1.33],[4.35,1.3],[4.15,1.12],[4.3,1.08],[4.45,1.25],[4.55,1.18],[4.65,1.05],[4.75,1.2],[4.8,1.28],[4.75,.96],[4.75,1.38],[4.9,1.2],[5,1.15],[4.85,1.3],[5.05,1.22],[5.15,1.28],[5.25,1.15],[5.35,1.35],[5.5,1.25],[5.5,1.12],[5.65,1.18],[5.7,1.2],[5.6,1.25],[5.15,1.3],[5.1,1.5],[5.05,1.45],[5.2,1.42],[5.3,1.42],[5.35,1.38],[5.15,1.62],[5.2,1.7],[5.75,1.3],[5.85,1.27],[6,1.27],[5.65,1.55],[5.55,1.53],[5.75,1.5],[5.85,1.48],[6.05,1.6],[6.15,1.62],[6.3,1.65],[6.4,1.68],[6.25,1.35],[6.05,1.35],[6.35,1.43],[6.2,1.42],[6.5,1.37],[6.65,1.4],[6.55,1.55],[6.7,1.6],[6.85,1.68],[6.7,1.8],[6.75,1.67],[7.0,1.75],[6.95,1.65],[6.7,1.48],[6.85,1.42],[7.05,1.6],[7.1,1.45],[7.15,1.72],[7.25,1.52],[7.3,1.3],[7.35,1.3],[7.35,1.54],[7.45,1.4],[7.5,1.73],[7.6,1.68],[7.65,1.55],[7.8,1.5],[7.7,1.45],[7.75,1.32],[6.9,1.23],[7.2,1.85],[7.45,1.82],[7.7,1.75],[7.85,1.82],[7.95,1.9],[8.35,1.5],[8.05,1.92],[8.25,1.98],[8.35,1.75],[8.45,1.72],[8.55,1.9],[8.7,1.75],[8.65,1.63],[8.6,1.95],[8.9,1.88],[9.0,2.05],[8.95,1.8],[8.85,1.85],[8.8,1.95],[9.15,1.92],[9.3,2.0],[9.45,1.92],[9.55,1.85],[9.65,1.82],[9.65,1.72],[9.7,1.92],[9.95,2.0],[10,1.88],[9.4,2.05],[9.6,2.05],[8.95,2.03],[6.0,2.03],[6.85,2.03],[7.35,2.05],[7.67,2.03],[7.0,2.08],[7.6,2.3],[7.59,2.38],[8.3,2.45],[8.43,2.39],[8.38,2.38],[9.35,2.5],[9.41,2.38],[9.97,2.6],[9.97,2.53],[9.95,2.3],[9.7,2.25],[9.52,2.26],[9.36,2.2],[8.4,2.2],[8.32,2.15],[8.25,2.15],[8.2,2.1],[8.4,2.08],[8.5,2.0],[8.8,2.08],[9.05,2.08],[9.3,2.1],[9.4,2.13],[9.55,2.12],[9.65,2.05],[9.75,2.0],[9.97,2.26],[3.6,1.05],[3.45,1.12],[4.3,1.22],[4.5,1.1],[4.95,1.1],[5.1,1.08],[5.25,1.22],[5.4,1.18],[4.9,1.28],[4.6,1.28],[2.25,1.1],[2.4,1.08],[2.5,1.05],[1.6,1.03],[1.5,.82],[1.35,.8],[1.2,.62],[1.7,.85],[2.55,.95],[2.7,.85],[1.95,.98],
[2.9,1.05],[3.0,1.02],[3.1,1.08],[3.25,1.1],[3.4,1.12],[3.55,1.18],[3.65,1.22],[3.8,1.2],[3.85,1.12],[4.0,1.12],[4.1,1.08],[4.2,1.18],[4.25,1.26],[4.35,1.15],[4.4,1.22],[4.55,1.25],[4.6,1.12],[4.7,1.15],[4.8,1.12],[4.85,1.22],[4.95,1.3],[5.05,1.15],[5.1,1.25],[5.2,1.2],[5.3,1.25],[5.4,1.3],[5.45,1.18],[5.55,1.2],[2.0,.92],[2.1,.95],[2.3,.88],[2.4,.92],[2.5,.98],[2.6,1.0],[2.75,1.02],[2.85,1.0],[2.35,.96],[8.7,1.95],[8.9,2.0],[9.1,2.02],[9.2,2.05],[9.5,2.0],[9.8,2.1],[9.9,2.15]];

const panels = [
  {i:0, open:[...sciaOpenHigh,...sciaOpenMid,...sciaOpenLow,...sciaOpenLowX,...sciaOpenExtra], filled:sciaFilled, ml:62, mr:25, w:466, lx:32, cx:251, xc:250.5, ex:113, r1:114, r2:265},
  {i:1, open:[...omiOpenHigh,...omiOpenMid,...omiOpenDense,...omiOpenLowX,...omiOpenExtra], filled:omiFilled, ml:66.7, mr:21, w:466, lx:36, cx:254, xc:255, ex:117, r1:118, r2:269}
];

function draw(p){
  const ink = "#000";
  const tickAxes = [];
  for (const [ticks,size] of [[xMajor,-10],[xMinor,-5]]) {
    for (const anchor of ["bottom","top"]) tickAxes.push(Plot.axisX({anchor, ticks, tickSize:size, fill:"none", label:null, stroke:ink, strokeWidth:1}));
  }
  for (const [ticks,size] of [[yMajor,-10],[yMinor,-5]]) {
    for (const anchor of ["left","right"]) tickAxes.push(Plot.axisY({anchor, ticks, tickSize:size, fill:"none", label:null, stroke:ink, strokeWidth:1}));
  }
  const fit = [0,10].map(x => ({x, y: intercepts[p.i] + slopes[p.i]*x}));
  const svg = Plot.plot({
    width:p.w, height:705, marginLeft:p.ml, marginRight:p.mr, marginTop:39.5, marginBottom:60,
    style:{background:"transparent", fontFamily:'"Liberation Sans",Arial,sans-serif', overflow:"visible"},
    x:{domain:[0,10], label:null},
    y:{domain:[0,4], label:null},
    marks:[
      Plot.dot(p.open,{x:d=>d[0], y:d=>d[1], r:4.1, stroke:"#555", strokeWidth:0.8, fill:"none", clip:"frame"}),
      Plot.line(fit,{x:"x", y:"y", stroke:"#f00", strokeWidth:5.5, clip:"frame"}),
      Plot.dot(p.filled,{x:d=>d[0], y:d=>d[1], r:4.7, fill:"#f00", stroke:"none", clip:"frame"}),
      Plot.axisX({anchor:"bottom", ticks:xMajor, tickSize:0, tickPadding:6, label:null, fontSize:20.5, tickFormat:d=>String(d)}),
      Plot.axisY({anchor:"left", ticks:yMajor, tickSize:0, tickPadding:8, label:null, fontSize:20.5, tickFormat:d=>String(d)}),
      ...tickAxes,
      Plot.frame({stroke:"#000", strokeWidth:1})
    ]
  });
  const s = d3.select(svg);
  const add = (x,y,txt,size,fill,anchor) => s.append("text").attr("x",x).attr("y",y).attr("font-size",size).attr("fill",fill).attr("text-anchor",anchor||"start").text(txt);
  add(p.cx,29,titles[p.i],21.3,"#000","middle");
  add(p.ex,77,equations[p.i],23,"#f00");
  add(p.r1,609,rAll[p.i],30.3,"#555");
  add(p.r2,609,rRed[p.i],30.3,"#f00");
  const rich = (t,parts) => { for (const [tx,sup] of parts) { const ts = t.append("tspan").text(tx); if (sup) ts.attr("font-size","0.68em").attr("dy","-0.55em"); else ts.attr("dy", t.node().dataset.up==="1" ? "0.374em" : null); t.node().dataset.up = sup ? "1":"0"; } };
  const xl = s.append("text").attr("x",p.xc).attr("y",701).attr("font-size",21.6).attr("text-anchor","middle").attr("fill","#000");
  rich(xl,[["Isoprene emissions [x10"],["12",1],[" atoms C cm"],["-2",1],[" s"],["-1",1],["]"]]);
  const yl = s.append("text").attr("transform",`translate(${p.lx},341) rotate(-90)`).attr("font-size",21.5).attr("text-anchor","middle").attr("fill","#000");
  rich(yl,[["GEOS-Chem HCHO vertical column  [x10"],["16",1],[" molecule cm"],["-2",1],["]"]]);
  yl.attr("xml:space","preserve").style("white-space","pre");
  return svg;
}
const wrap = document.getElementById("wrap");
panels.forEach(p => wrap.appendChild(draw(p)));
</script></body></html>
